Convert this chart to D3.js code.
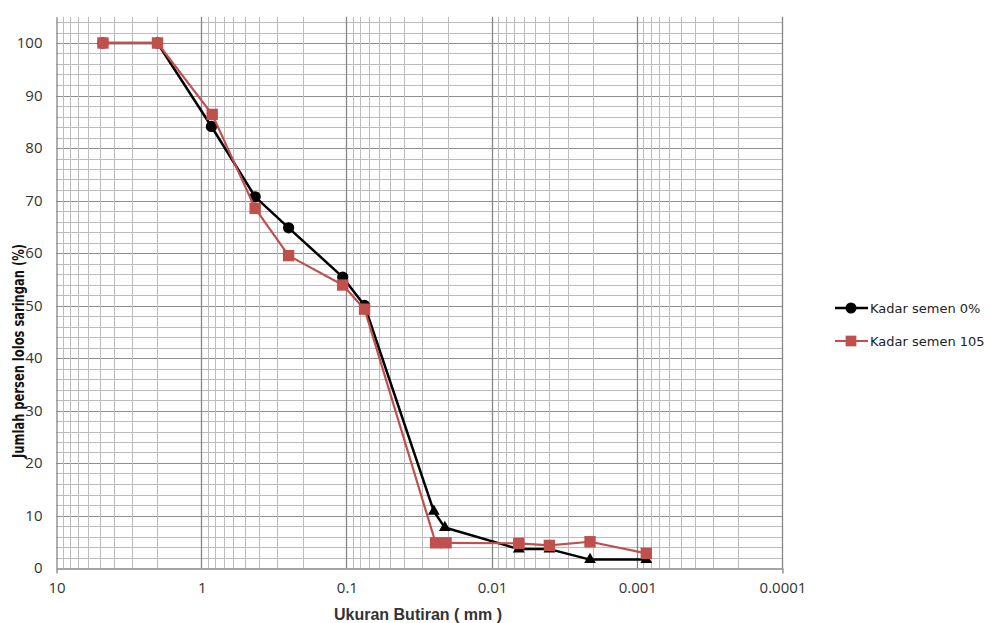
<!DOCTYPE html>
<html>
<head>
<meta charset="utf-8">
<script src="https://cdn.jsdelivr.net/npm/d3@7"></script>
<style>
  body { margin: 0; background: #fff; }
  svg { display: block; }
</style>
</head>
<body>
<div id="chart"></div>
<script>
// grain size (mm) and percent passing
const sizes0 = [4.75, 2.0, 0.85, 0.425, 0.25, 0.106, 0.075, 0.0250, 0.0210, 0.0065, 0.0040, 0.0021, 0.00086];
const passing0 = [100, 100, 84.1, 70.7, 64.8, 55.4, 50.0, 10.8, 7.7, 3.6, 3.6, 1.6, 1.6];

const sizes105 = [4.75, 2.0, 0.84, 0.425, 0.25, 0.106, 0.075, 0.0243, 0.0206, 0.0065, 0.0040, 0.0021, 0.00086];
const passing105 = [100, 100, 86.4, 68.5, 59.5, 53.9, 49.3, 4.8, 4.8, 4.7, 4.3, 5.0, 2.8];

const seriesNames = ["Kadar semen 0%", "Kadar semen 105"];
const xTicks = [10, 1, 0.1, 0.01, 0.001, 0.0001];
const yTicks = [0, 10, 20, 30, 40, 50, 60, 70, 80, 90, 100];

const width = 990;
const height = 623;
const left = 56, right = 782, bottom = 568;

const x = d3.scaleLog().domain([10, 0.0001]).range([left, right]);
const y = d3.scaleLinear().domain([0, 105]).range([bottom, bottom - 105 * 5.25]);

const svg = d3.select("#chart")
    .append("svg")
    .attr("width", width)
    .attr("height", height);

svg.append("rect").attr("width", width).attr("height", height).attr("fill", "#fff");

// grid
const grid = svg.append("g");
const hLines = d3.range(2, 105, 2);
grid.selectAll("line.h")
    .data(hLines)
    .enter()
    .append("line")
    .attr("x1", left)
    .attr("x2", right)
    .attr("y1", d => Math.round(y(d)) + 0.5)
    .attr("y2", d => Math.round(y(d)) + 0.5)
    .attr("stroke", d => d % 10 === 0 ? "#8f8f8f" : "#bcbcbc")
    .attr("stroke-width", 1);

const vLines = [];
[1, 0.1, 0.01, 0.001, 0.0001].forEach(dec => {
    for (let k = 1; k <= 9; k++) vLines.push({ v: k * dec, major: k === 1 });
});
grid.selectAll("line.v")
    .data(vLines)
    .enter()
    .append("line")
    .attr("x1", d => Math.round(x(d.v)) + 0.5)
    .attr("x2", d => Math.round(x(d.v)) + 0.5)
    .attr("y1", y(0))
    .attr("y2", y(105))
    .attr("stroke", d => d.major ? "#868686" : "#bcbcbc")
    .attr("stroke-width", d => d.major ? 1.3 : 1);

// axes
const xAxis = svg.append("g")
    .attr("transform", `translate(0.5, ${bottom + 0.5})`)
    .call(d3.axisBottom(x)
        .tickValues(xTicks)
        .tickFormat(d3.format("~g"))
        .tickSizeInner(0)
        .tickSizeOuter(5)
        .tickPadding(14));
xAxis.select(".domain").attr("stroke", "#868686").attr("stroke-width", 1.3);
xAxis.selectAll("text")
    .attr("fill", "#333")
    .style("font-family", "'Open Sans', 'Liberation Sans', sans-serif")
    .style("font-size", "15px");

const yAxis = svg.append("g")
    .attr("transform", `translate(${left + 0.5}, 0)`)
    .call(d3.axisLeft(y)
        .tickValues(yTicks)
        .tickSize(0)
        .tickPadding(14));
yAxis.select(".domain").attr("stroke", "#868686").attr("stroke-width", 1.3);
yAxis.selectAll("text")
    .attr("fill", "#333")
    .style("font-family", "'Open Sans', 'Liberation Sans', sans-serif")
    .style("font-size", "15px");

// axis titles
svg.append("text")
    .attr("x", 418)
    .attr("y", 620)
    .attr("text-anchor", "middle")
    .attr("fill", "#333")
    .style("font-family", "'Liberation Sans', Arial, sans-serif")
    .style("font-weight", "bold")
    .style("font-size", "16px")
    .text("Ukuran Butiran ( mm )");

svg.append("text")
    .attr("transform", "translate(24, 351) rotate(-90)")
    .attr("text-anchor", "middle")
    .attr("fill", "#111")
    .attr("textLength", 214)
    .attr("lengthAdjust", "spacingAndGlyphs")
    .style("font-family", "'Liberation Sans Narrow', 'DejaVu Sans Condensed', sans-serif")
    .style("font-weight", "bold")
    .style("font-size", "15px")
    .text("Jumlah persen lolos saringan (%)");

// series
const data0 = sizes0.map((s, i) => ({ size: s, pass: passing0[i] }));
const data105 = sizes105.map((s, i) => ({ size: s, pass: passing105[i] }));

const line = d3.line()
    .x(d => x(d.size))
    .y(d => y(d.pass));

const black = "#000";
const red = "#c0504d";

svg.append("path")
    .datum(data0)
    .attr("d", line)
    .attr("fill", "none")
    .attr("stroke", black)
    .attr("stroke-width", 2.5)
    .attr("stroke-linejoin", "round");

// hydrometer readings are drawn as triangles, sieve readings as circles
const isHydro = d => d.size < 0.07;
svg.selectAll("path.m0")
    .data(data0)
    .enter()
    .append("path")
    .attr("transform", d => `translate(${x(d.size)}, ${y(d.pass)})`)
    .attr("d", d => isHydro(d)
        ? d3.symbol(d3.symbolTriangle, 60)()
        : d3.symbol(d3.symbolCircle, 100)())
    .attr("fill", black);

svg.append("path")
    .datum(data105)
    .attr("d", line)
    .attr("fill", "none")
    .attr("stroke", red)
    .attr("stroke-width", 2.2)
    .attr("stroke-linejoin", "round");

svg.selectAll("path.m105")
    .data(data105)
    .enter()
    .append("path")
    .attr("transform", d => `translate(${x(d.size)}, ${y(d.pass)})`)
    .attr("d", d3.symbol(d3.symbolSquare, 130)())
    .attr("fill", red);

// legend
const legend = svg.append("g");
const legendRows = [
    { name: seriesNames[0], color: black, width: 2.5, symbol: d3.symbolCircle, size: 95, y: 308 },
    { name: seriesNames[1], color: red, width: 2.2, symbol: d3.symbolSquare, size: 115, y: 341 }
];
legendRows.forEach(r => {
    legend.append("line")
        .attr("x1", 835).attr("x2", 868)
        .attr("y1", r.y).attr("y2", r.y)
        .attr("stroke", r.color)
        .attr("stroke-width", r.width);
    legend.append("path")
        .attr("transform", `translate(851, ${r.y})`)
        .attr("d", d3.symbol(r.symbol, r.size)())
        .attr("fill", r.color);
    legend.append("text")
        .attr("x", 870)
        .attr("y", r.y)
        .attr("dy", "0.35em")
        .attr("fill", "#222")
        .style("font-family", "'DejaVu Sans', Verdana, sans-serif")
        .style("font-size", "13px")
        .text(r.name);
});
</script>
</body>
</html>
